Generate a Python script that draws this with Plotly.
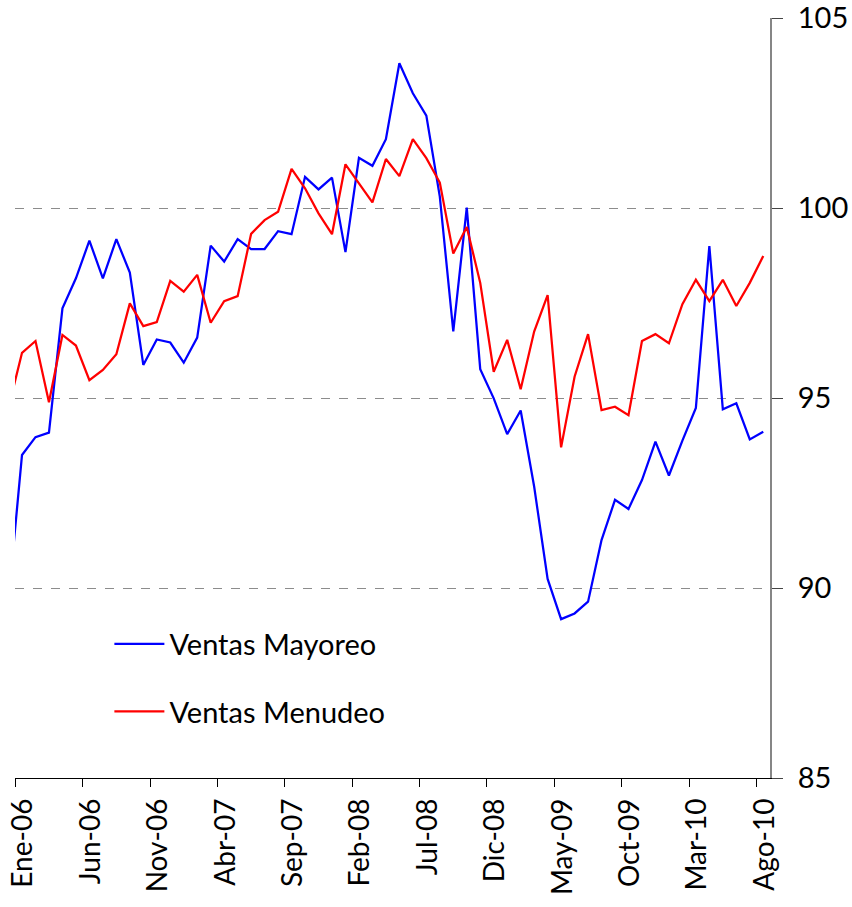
import numpy as np
import plotly.graph_objects as go

# Month labels (Dic-05 precedes the visible axis start; its segment is clipped)
meses = ["Ene", "Feb", "Mar", "Abr", "May", "Jun", "Jul", "Ago", "Sep", "Oct", "Nov", "Dic"]
periodos = ["Dic-05"] + [f"{meses[m]}-{str(y)[2:]}" for y in range(2006, 2011) for m in range(12)][:56]

tick_labels = ["Ene-06", "Jun-06", "Nov-06", "Abr-07", "Sep-07", "Feb-08",
               "Jul-08", "Dic-08", "May-09", "Oct-09", "Mar-10", "Ago-10"]

ventas_mayoreo = [89.70,
    93.50, 93.97, 94.09, 97.36, 98.15, 99.14, 98.15, 99.18, 98.30, 95.87, 96.54, 96.46,
    95.93, 96.59, 99.01, 98.59, 99.18, 98.92, 98.92, 99.39, 99.31, 100.82, 100.49, 100.80,
    98.84, 101.32, 101.11, 101.81, 103.81, 103.02, 102.43, 100.30, 96.75, 100.01, 95.76, 94.99,
    94.05, 94.67, 92.67, 90.24, 89.18, 89.33, 89.64, 91.26, 92.32, 92.08, 92.84, 93.85,
    92.96, 93.88, 94.74, 99.00, 94.70, 94.86, 93.91, 94.11]

ventas_menudeo = [94.75,
    96.19, 96.50, 94.89, 96.66, 96.38, 95.47, 95.74, 96.15, 97.49, 96.89, 97.00, 98.08,
    97.80, 98.24, 96.98, 97.55, 97.68, 99.32, 99.68, 99.90, 101.03, 100.52, 99.86, 99.31,
    101.15, 100.65, 100.15, 101.29, 100.84, 101.81, 101.31, 100.67, 98.80, 99.50, 98.03, 95.69,
    96.53, 95.23, 96.75, 97.71, 93.70, 95.56, 96.68, 94.68, 94.77, 94.55, 96.50, 96.68,
    96.44, 97.47, 98.11, 97.55, 98.11, 97.42, 98.03, 98.74]

# Points sit between tick marks (Excel style): month k is centred at k + 0.5
x_pos = np.arange(-1, 56) + 0.5
tick_pos = np.arange(0, 56, 5)
X_RANGE = [-0.02, 56]

FONT = "Lato"

fig = go.Figure()
fig.add_trace(go.Scatter(x=x_pos, y=ventas_mayoreo, mode="lines", name="Ventas Mayoreo",
                         legendgroup="a", text=periodos,
                         line=dict(color="#0000FF", width=2.25)))
fig.add_trace(go.Scatter(x=x_pos, y=ventas_menudeo, mode="lines", name="Ventas Menudeo",
                         legendgroup="b", text=periodos,
                         line=dict(color="#FF0000", width=2.25)))
# transparent companion trace so the label-only axis (x2) is drawn
fig.add_trace(go.Scatter(x=x_pos, y=ventas_mayoreo, mode="lines", xaxis="x2",
                         showlegend=False, hoverinfo="skip",
                         line=dict(color="rgba(0,0,0,0)", width=0)))

fig.update_layout(
    width=852, height=907,
    margin=dict(l=15, r=82, t=18, b=129, autoexpand=False),
    paper_bgcolor="white", plot_bgcolor="white",
    font=dict(family=FONT, size=26, color="black"),
    showlegend=True,
    legend=dict(x=0.125, y=0.21, xanchor="left", yanchor="top",
                bgcolor="rgba(0,0,0,0)", font=dict(family=FONT, size=29),
                itemwidth=50, tracegroupgap=27, traceorder="grouped"),
    xaxis=dict(
        range=X_RANGE, tickmode="array", tickvals=tick_pos, showticklabels=False,
        ticks="outside", ticklen=8, tickwidth=1, tickcolor="black",
        showline=True, linecolor="black", linewidth=1, showgrid=False, zeroline=False,
        automargin=False,
    ),
    # second x axis carries only the rotated labels, set slightly right of the tick marks
    xaxis2=dict(
        overlaying="x", anchor="y", side="bottom", range=X_RANGE,
        tickmode="array", tickvals=tick_pos + 0.6, ticktext=tick_labels,
        tickangle=-90, ticks="", showline=False, showgrid=False, zeroline=False,
        tickfont=dict(family=FONT, size=28), automargin=False,
        ticklabelstandoff=14, ticklabeloverflow="allow",
    ),
    yaxis=dict(
        range=[85, 105], dtick=5, side="right", ticks="outside", ticklen=11,
        tickwidth=1, tickcolor="#444444", showline=True, linecolor="#868686", linewidth=2,
        showgrid=True, gridcolor="#8c8c8c", griddash="dash", gridwidth=1, zeroline=False,
        tickfont=dict(family=FONT, size=29), ticklabelstandoff=9, automargin=False,
        ticklabeloverflow="allow",
    ),
)

# remove the default 8px page margin so the figure fills the window exactly
fig.write_html("out.html", config={"displayModeBar": False},
               post_script="document.body.style.margin='0px';")
